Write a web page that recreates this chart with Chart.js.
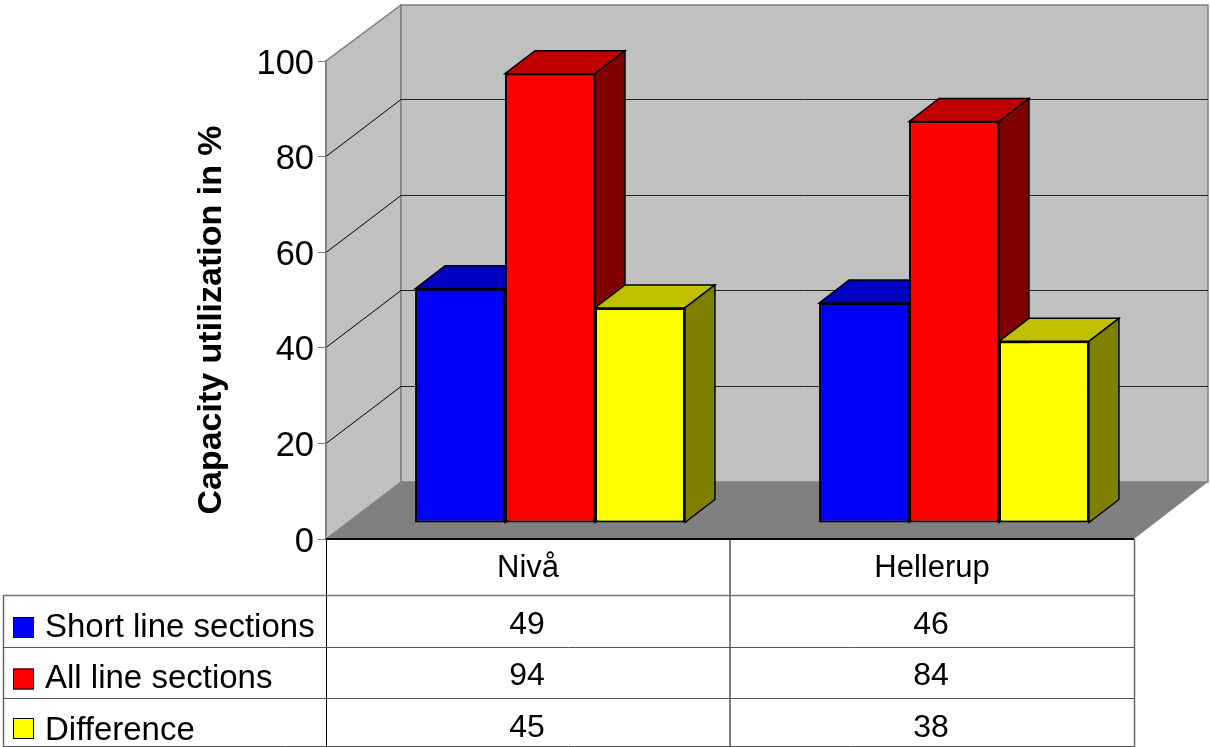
<!DOCTYPE html>
<html>
<head>
<meta charset="utf-8" />
<style>
  html, body { margin: 0; padding: 0; background: #fff; overflow: hidden; }
  canvas { display: block; }
</style>
<script src="https://cdn.jsdelivr.net/npm/chart.js@4"></script>
</head>
<body>
<canvas id="capacityChart" width="1210" height="747"></canvas>
<script>
  const categories = ["Nivå", "Hellerup"];
  const seriesNames = ["Short line sections", "All line sections", "Difference"];
  const shortLine = [49, 46];
  const allLine = [94, 84];
  const difference = [45, 38];
  const yAxisTitle = "Capacity utilization in %";

  const frontColors = ["#0000FF", "#FF0000", "#FFFF00"];
  const topColors = ["#0000C0", "#C00000", "#C0C000"];
  const sideColors = ["#000080", "#800000", "#808000"];

  const FONT = '"Liberation Sans", Arial, sans-serif';
  const WALL_DX = 75; // how far the back wall sits behind the axis plane
  const WALL_DY = -57;
  const BAR_DX = 22; // bars stand a bit into the floor
  const BAR_DY = -16;
  const DEPTH_DX = 30; // depth of the bars themselves
  const DEPTH_DY = -23;
  const ROW_LINES = [595, 647, 698, 746];
  const LABEL_NUDGE = [2, 1, 4]; // row text is not quite centred in the original
  const VALUE_NUDGE = [-1, -1, 1];
  const TABLE_LEFT = 3;

  function poly(ctx, points, fill, stroke, width) {
    ctx.beginPath();
    points.forEach((p, i) => (i ? ctx.lineTo(p[0], p[1]) : ctx.moveTo(p[0], p[1])));
    ctx.closePath();
    if (fill) {
      ctx.fillStyle = fill;
      ctx.fill();
    }
    if (stroke) {
      ctx.strokeStyle = stroke;
      ctx.lineWidth = width || 1;
      ctx.stroke();
    }
  }

  function line(ctx, x1, y1, x2, y2, color, width) {
    ctx.beginPath();
    ctx.moveTo(x1, y1);
    ctx.lineTo(x2, y2);
    ctx.strokeStyle = color;
    ctx.lineWidth = width || 1;
    ctx.stroke();
  }

  const box3d = {
    id: "box3d",
    beforeDraw(chart) {
      const ctx = chart.ctx;
      const { left, right, top, bottom } = chart.chartArea;
      const dx = WALL_DX, dy = WALL_DY;
      const wallTop = top + dy + 1;
      ctx.save();
      poly(ctx, [[left, bottom], [left, top], [left + dx, wallTop], [left + dx, bottom + dy]], "#C0C0C0", "#808080", 1.5);
      poly(ctx, [[left + dx, wallTop], [right + dx - 1, wallTop], [right + dx - 1, bottom + dy], [left + dx, bottom + dy]], "#C0C0C0", "#808080", 1.5);
      poly(ctx, [[left, bottom], [left + dx, bottom + dy], [right + dx - 1, bottom + dy], [right, bottom]], "#808080");
      const y = chart.scales.y;
      y.ticks.forEach((t) => {
        if (t.value === 0 || t.value === 100) return;
        const py = Math.floor(y.getPixelForValue(t.value)) + 0.5;
        line(ctx, left, py, left + dx, py + dy, "#000");
        line(ctx, left + dx, py + dy, right + dx - 1, py + dy, "#222");
      });
      ctx.restore();
    },
    // bars go left to right so each one covers the side of the one before
    beforeDatasetsDraw(chart) {
      const ctx = chart.ctx;
      ctx.save();
      ctx.translate(BAR_DX, BAR_DY);
      seriesNames.forEach((name, s) => {
        const meta = chart.getDatasetMeta(s);
        meta.data.forEach((bar) => {
          const x1 = bar.x - bar.width / 2;
          const x2 = bar.x + bar.width / 2;
          poly(ctx, [[x1, bar.y], [x1 + DEPTH_DX, bar.y + DEPTH_DY], [x2 + DEPTH_DX, bar.y + DEPTH_DY], [x2, bar.y]], topColors[s], "#000", 1.5);
          poly(ctx, [[x2, bar.y], [x2 + DEPTH_DX, bar.y + DEPTH_DY], [x2 + DEPTH_DX, bar.base + DEPTH_DY], [x2, bar.base]], sideColors[s], "#000", 1.5);
        });
        meta.controller.draw();
      });
      ctx.restore();
      return false;
    },
    afterDraw(chart) {
      const ctx = chart.ctx;
      const { left, right, bottom } = chart.chartArea;
      const x = chart.scales.x;
      const y = chart.scales.y;
      ctx.save();

      // data table under the plot
      const mid = (left + right) / 2;
      line(ctx, left, bottom, right, bottom, "#000", 2);
      line(ctx, left + 0.5, bottom, left + 0.5, 747, "#000");
      line(ctx, mid, bottom, mid, 747, "#000");
      line(ctx, right + 0.5, bottom, right + 0.5, 747, "#666", 1.5);
      line(ctx, TABLE_LEFT + 0.5, ROW_LINES[0], TABLE_LEFT + 0.5, 747, "#666", 1.5);
      ROW_LINES.forEach((ry, i) => line(ctx, TABLE_LEFT, ry + 0.5, right, ry + 0.5, i === 0 ? "#777" : "#555", i === 0 ? 1.5 : 1));

      ctx.textBaseline = "middle";
      chart.data.datasets.forEach((ds, r) => {
        const rowMid = (ROW_LINES[r] + ROW_LINES[r + 1]) / 2 + 5;
        ctx.fillStyle = frontColors[r];
        ctx.fillRect(13, rowMid - 9, 21, 21);
        ctx.strokeStyle = "#000";
        ctx.lineWidth = 1;
        ctx.strokeRect(13.5, rowMid - 8.5, 20, 20);
        ctx.fillStyle = "#000";
        ctx.textAlign = "left";
        ctx.font = "33px " + FONT;
        ctx.fillText(ds.label, 45, rowMid + LABEL_NUDGE[r]);
        ctx.textAlign = "center";
        ctx.font = "32px " + FONT;
        ds.data.forEach((v, i) => ctx.fillText(String(v), x.getPixelForTick(i) - 1, rowMid + VALUE_NUDGE[r]));
      });

      // y tick labels, set a little lower than the scale would put them
      ctx.font = "34.5px " + FONT;
      ctx.textAlign = "right";
      y.ticks.forEach((t) => ctx.fillText(String(t.value), 314, y.getPixelForValue(t.value) + 3));

      // axis title, sits lower than the plot centre in the original
      ctx.translate(212, 320);
      ctx.rotate(-Math.PI / 2);
      ctx.font = "bold 34px " + FONT;
      ctx.textAlign = "center";
      ctx.fillText(yAxisTitle, 0, 0);
      ctx.restore();
    },
  };

  const seriesValues = [shortLine, allLine, difference];

  new Chart(document.getElementById("capacityChart"), {
    type: "bar",
    data: {
      labels: categories,
      datasets: seriesNames.map((name, i) => ({
        label: name,
        data: seriesValues[i],
        backgroundColor: frontColors[i],
        borderColor: "#000",
        borderWidth: 2,
        borderSkipped: false,
        barPercentage: 1,
        categoryPercentage: 0.668,
        clip: false,
      })),
    },
    options: {
      responsive: false,
      animation: false,
      layout: { padding: { top: 61, right: 76, left: 0, bottom: 0 } },
      plugins: { legend: { display: false }, title: { display: false }, tooltip: { enabled: false } },
      scales: {
        x: {
          afterFit: (s) => { s.height = 208; },
          grid: { display: false },
          border: { display: false },
          ticks: { color: "#000", maxRotation: 0, padding: 3, font: { family: FONT, size: 31 } },
        },
        y: {
          min: 0,
          max: 100,
          afterFit: (s) => { s.width = 326; },
          grid: { drawOnChartArea: false, tickLength: 8, color: "#808080" },
          border: { color: "#808080", width: 1.5 },
          ticks: { display: false, stepSize: 20 },
        },
      },
    },
    plugins: [box3d],
  });
</script>
</body>
</html>
